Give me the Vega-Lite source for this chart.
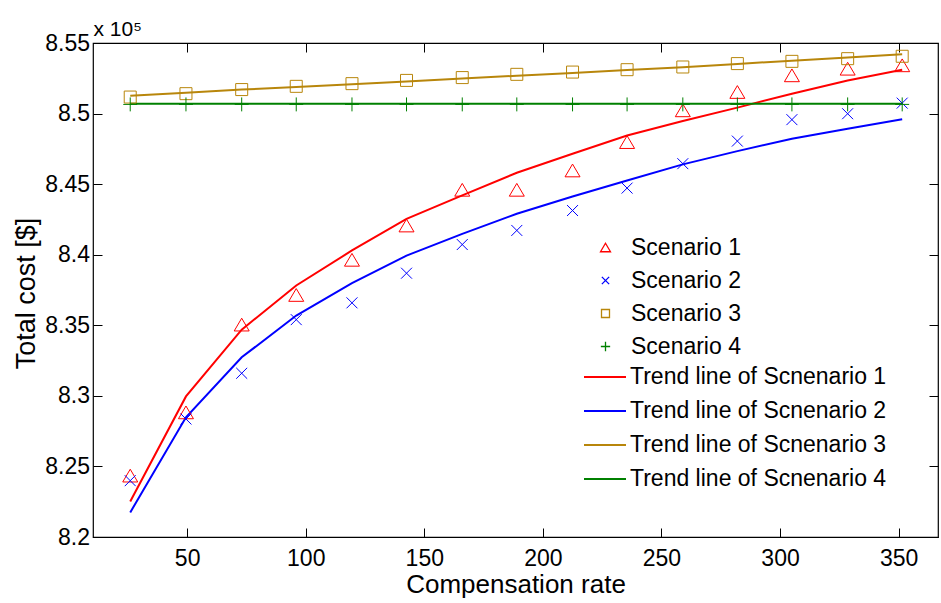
{
  "$schema": "https://vega.github.io/schema/vega-lite/v6.json",
  "width": 845,
  "height": 494,
  "autosize": {"type": "none"},
  "padding": {"left": 93, "top": 43, "right": 3, "bottom": 66},
  "background": "white",
  "datasets": {
    "pts": [
      {"x": 26, "y": 8.2435, "s": "Scenario 1"}, {"x": 49.5, "y": 8.2883, "s": "Scenario 1"}, {"x": 73, "y": 8.3505, "s": "Scenario 1"}, {"x": 96, "y": 8.3715, "s": "Scenario 1"}, {"x": 119.5, "y": 8.3964, "s": "Scenario 1"}, {"x": 142.5, "y": 8.4207, "s": "Scenario 1"}, {"x": 166, "y": 8.446, "s": "Scenario 1"}, {"x": 189, "y": 8.446, "s": "Scenario 1"}, {"x": 212.5, "y": 8.4597, "s": "Scenario 1"}, {"x": 235.5, "y": 8.4798, "s": "Scenario 1"}, {"x": 259, "y": 8.5023, "s": "Scenario 1"}, {"x": 282, "y": 8.5153, "s": "Scenario 1"}, {"x": 305, "y": 8.5271, "s": "Scenario 1"}, {"x": 328.5, "y": 8.5318, "s": "Scenario 1"}, {"x": 351.5, "y": 8.5342, "s": "Scenario 1"},
      {"x": 26, "y": 8.2399, "s": "Scenario 2"}, {"x": 49.5, "y": 8.2836, "s": "Scenario 2"}, {"x": 73, "y": 8.316, "s": "Scenario 2"}, {"x": 96, "y": 8.354, "s": "Scenario 2"}, {"x": 119.5, "y": 8.3659, "s": "Scenario 2"}, {"x": 142.5, "y": 8.3869, "s": "Scenario 2"}, {"x": 166, "y": 8.4072, "s": "Scenario 2"}, {"x": 189, "y": 8.4172, "s": "Scenario 2"}, {"x": 212.5, "y": 8.4313, "s": "Scenario 2"}, {"x": 235.5, "y": 8.4472, "s": "Scenario 2"}, {"x": 259, "y": 8.4645, "s": "Scenario 2"}, {"x": 282, "y": 8.4805, "s": "Scenario 2"}, {"x": 305, "y": 8.4957, "s": "Scenario 2"}, {"x": 328.5, "y": 8.4999, "s": "Scenario 2"}, {"x": 351.5, "y": 8.5074, "s": "Scenario 2"},
      {"x": 26, "y": 8.5117, "s": "Scenario 3"}, {"x": 49.5, "y": 8.5141, "s": "Scenario 3"}, {"x": 73, "y": 8.517, "s": "Scenario 3"}, {"x": 96, "y": 8.5193, "s": "Scenario 3"}, {"x": 119.5, "y": 8.5212, "s": "Scenario 3"}, {"x": 142.5, "y": 8.5235, "s": "Scenario 3"}, {"x": 166, "y": 8.5255, "s": "Scenario 3"}, {"x": 189, "y": 8.5278, "s": "Scenario 3"}, {"x": 212.5, "y": 8.5294, "s": "Scenario 3"}, {"x": 235.5, "y": 8.5311, "s": "Scenario 3"}, {"x": 259, "y": 8.533, "s": "Scenario 3"}, {"x": 282, "y": 8.5354, "s": "Scenario 3"}, {"x": 305, "y": 8.537, "s": "Scenario 3"}, {"x": 328.5, "y": 8.5389, "s": "Scenario 3"}, {"x": 351.5, "y": 8.5406, "s": "Scenario 3"},
      {"x": 26, "y": 8.5065, "s": "Scenario 4"}, {"x": 49.5, "y": 8.5065, "s": "Scenario 4"}, {"x": 73, "y": 8.5065, "s": "Scenario 4"}, {"x": 96, "y": 8.5065, "s": "Scenario 4"}, {"x": 119.5, "y": 8.5065, "s": "Scenario 4"}, {"x": 142.5, "y": 8.5065, "s": "Scenario 4"}, {"x": 166, "y": 8.5065, "s": "Scenario 4"}, {"x": 189, "y": 8.5065, "s": "Scenario 4"}, {"x": 212.5, "y": 8.5065, "s": "Scenario 4"}, {"x": 235.5, "y": 8.5065, "s": "Scenario 4"}, {"x": 259, "y": 8.5065, "s": "Scenario 4"}, {"x": 282, "y": 8.5065, "s": "Scenario 4"}, {"x": 305, "y": 8.5065, "s": "Scenario 4"}, {"x": 328.5, "y": 8.5065, "s": "Scenario 4"}, {"x": 351.5, "y": 8.5065, "s": "Scenario 4"}
    ],
    "lns": [
      {"x": 26, "y": 8.2252, "s": "Trend line of Scnenario 1"}, {"x": 49.5, "y": 8.2996, "s": "Trend line of Scnenario 1"}, {"x": 73, "y": 8.3469, "s": "Trend line of Scnenario 1"}, {"x": 96, "y": 8.3782, "s": "Trend line of Scnenario 1"}, {"x": 119.5, "y": 8.403, "s": "Trend line of Scnenario 1"}, {"x": 142.5, "y": 8.4254, "s": "Trend line of Scnenario 1"}, {"x": 166, "y": 8.442, "s": "Trend line of Scnenario 1"}, {"x": 189, "y": 8.4581, "s": "Trend line of Scnenario 1"}, {"x": 212.5, "y": 8.4715, "s": "Trend line of Scnenario 1"}, {"x": 235.5, "y": 8.4845, "s": "Trend line of Scnenario 1"}, {"x": 259, "y": 8.4947, "s": "Trend line of Scnenario 1"}, {"x": 282, "y": 8.5042, "s": "Trend line of Scnenario 1"}, {"x": 305, "y": 8.5141, "s": "Trend line of Scnenario 1"}, {"x": 328.5, "y": 8.5235, "s": "Trend line of Scnenario 1"}, {"x": 351.5, "y": 8.5311, "s": "Trend line of Scnenario 1"},
      {"x": 26, "y": 8.2174, "s": "Trend line of Scnenario 2"}, {"x": 49.5, "y": 8.2848, "s": "Trend line of Scnenario 2"}, {"x": 73, "y": 8.3273, "s": "Trend line of Scnenario 2"}, {"x": 96, "y": 8.3569, "s": "Trend line of Scnenario 2"}, {"x": 119.5, "y": 8.3798, "s": "Trend line of Scnenario 2"}, {"x": 142.5, "y": 8.3994, "s": "Trend line of Scnenario 2"}, {"x": 166, "y": 8.4148, "s": "Trend line of Scnenario 2"}, {"x": 189, "y": 8.429, "s": "Trend line of Scnenario 2"}, {"x": 212.5, "y": 8.4413, "s": "Trend line of Scnenario 2"}, {"x": 235.5, "y": 8.4526, "s": "Trend line of Scnenario 2"}, {"x": 259, "y": 8.464, "s": "Trend line of Scnenario 2"}, {"x": 282, "y": 8.4734, "s": "Trend line of Scnenario 2"}, {"x": 305, "y": 8.4822, "s": "Trend line of Scnenario 2"}, {"x": 328.5, "y": 8.4893, "s": "Trend line of Scnenario 2"}, {"x": 351.5, "y": 8.4959, "s": "Trend line of Scnenario 2"},
      {"x": 26, "y": 8.5127, "s": "Trend line of Scnenario 3"}, {"x": 49.5, "y": 8.5148, "s": "Trend line of Scnenario 3"}, {"x": 73, "y": 8.517, "s": "Trend line of Scnenario 3"}, {"x": 96, "y": 8.5188, "s": "Trend line of Scnenario 3"}, {"x": 119.5, "y": 8.5208, "s": "Trend line of Scnenario 3"}, {"x": 142.5, "y": 8.5228, "s": "Trend line of Scnenario 3"}, {"x": 166, "y": 8.5248, "s": "Trend line of Scnenario 3"}, {"x": 189, "y": 8.5268, "s": "Trend line of Scnenario 3"}, {"x": 212.5, "y": 8.5288, "s": "Trend line of Scnenario 3"}, {"x": 235.5, "y": 8.5308, "s": "Trend line of Scnenario 3"}, {"x": 259, "y": 8.5329, "s": "Trend line of Scnenario 3"}, {"x": 282, "y": 8.5352, "s": "Trend line of Scnenario 3"}, {"x": 305, "y": 8.5375, "s": "Trend line of Scnenario 3"}, {"x": 328.5, "y": 8.5398, "s": "Trend line of Scnenario 3"}, {"x": 351.5, "y": 8.542, "s": "Trend line of Scnenario 3"},
      {"x": 26, "y": 8.507, "s": "Trend line of Scnenario 4"}, {"x": 49.5, "y": 8.507, "s": "Trend line of Scnenario 4"}, {"x": 73, "y": 8.507, "s": "Trend line of Scnenario 4"}, {"x": 96, "y": 8.507, "s": "Trend line of Scnenario 4"}, {"x": 119.5, "y": 8.507, "s": "Trend line of Scnenario 4"}, {"x": 142.5, "y": 8.507, "s": "Trend line of Scnenario 4"}, {"x": 166, "y": 8.507, "s": "Trend line of Scnenario 4"}, {"x": 189, "y": 8.507, "s": "Trend line of Scnenario 4"}, {"x": 212.5, "y": 8.507, "s": "Trend line of Scnenario 4"}, {"x": 235.5, "y": 8.507, "s": "Trend line of Scnenario 4"}, {"x": 259, "y": 8.507, "s": "Trend line of Scnenario 4"}, {"x": 282, "y": 8.507, "s": "Trend line of Scnenario 4"}, {"x": 305, "y": 8.507, "s": "Trend line of Scnenario 4"}, {"x": 328.5, "y": 8.507, "s": "Trend line of Scnenario 4"}, {"x": 351.5, "y": 8.507, "s": "Trend line of Scnenario 4"}
    ]
  },
  "layer": [
    {
      "data": {"name": "lns"},
      "mark": {"type": "line", "strokeWidth": 2},
      "encoding": {
        "x": {"field": "x", "type": "quantitative", "scale": {"domain": [10.3, 366.6], "nice": false, "zero": false},
              "axis": {"orient": "bottom", "values": [50, 100, 150, 200, 250, 300, 350], "tickSize": -9, "labelPadding": 19, "title": "Compensation rate", "titleFontSize": 26, "titleBaseline": "alphabetic", "titleY": 55}},
        "y": {"field": "y", "type": "quantitative", "scale": {"domain": [8.2, 8.55], "nice": false, "zero": false},
              "axis": {"orient": "left", "values": [8.2, 8.25, 8.3, 8.35, 8.4, 8.45, 8.5, 8.55], "format": ".2~f", "tickSize": -9, "labelPadding": 12.5, "title": "Total cost [$]", "titleFontSize": 27, "titleX": -53, "titleY": 250}},
        "color": {"field": "s", "type": "nominal",
                  "scale": {"domain": ["Trend line of Scnenario 1", "Trend line of Scnenario 2", "Trend line of Scnenario 3", "Trend line of Scnenario 4"], "range": ["#FF0000", "#0000FF", "#B8860B", "#008000"]},
                  "legend": {"orient": "none", "legendX": 490, "legendY": 312, "title": null, "symbolType": "stroke", "symbolSize": 1764, "symbolStrokeWidth": 2, "labelOffset": 3, "rowPadding": 0, "padding": 0}}
      }
    },
    {
      "data": {"name": "pts"},
      "mark": {"type": "point", "filled": false, "strokeWidth": 1, "opacity": 1, "size": 225},
      "encoding": {
        "x": {"field": "x", "type": "quantitative", "axis": {"orient": "top", "values": [50, 100, 150, 200, 250, 300, 350], "tickSize": -9, "labels": false, "title": "x 10⁵", "titleFontSize": 21, "titleAnchor": "start", "titleAlign": "left", "titleBaseline": "alphabetic", "titleX": 0, "titleY": -8, "titleAngle": 0}},
        "y": {"field": "y", "type": "quantitative", "axis": {"orient": "right", "values": [8.2, 8.25, 8.3, 8.35, 8.4, 8.45, 8.5, 8.55], "tickSize": -9, "labels": false, "title": null}},
        "color": {"field": "s", "type": "nominal",
                  "scale": {"domain": ["Scenario 1", "Scenario 2", "Scenario 3", "Scenario 4"], "range": ["#FF0000", "#0000FF", "#B8860B", "#008000"]},
                  "legend": {"orient": "none", "legendX": 501, "legendY": 193, "title": null, "symbolSize": 100, "symbolStrokeWidth": 1.3, "labelOffset": 14, "rowPadding": 9, "padding": 0}},
        "shape": {"field": "s", "type": "nominal",
                  "scale": {"domain": ["Scenario 1", "Scenario 2", "Scenario 3", "Scenario 4"], "range": ["M0,-0.85L1,0.85L-1,0.85Z", "M-0.73,-0.73L0.73,0.73M-0.73,0.73L0.73,-0.73", "M-0.8,-0.8L0.8,-0.8L0.8,0.8L-0.8,0.8Z", "M-0.93,0L0.93,0M0,-0.93L0,0.93"]}}
      }
    }
  ],
  "resolve": {"scale": {"color": "independent", "shape": "independent"}, "axis": {"x": "independent", "y": "independent"}},
  "config": {
    "font": "Liberation Sans",
    "view": {"stroke": "black", "strokeWidth": 1.2},
    "axis": {"domain": false, "grid": false, "tickColor": "black", "tickWidth": 1, "labelColor": "black", "labelFontSize": 23, "labelFont": "Liberation Sans", "titleColor": "black", "titleFont": "Liberation Sans", "titleFontWeight": "normal", "labelFlush": false, "labelOverlap": false},
    "legend": {"labelFontSize": 23, "labelFont": "Liberation Sans", "labelColor": "black", "labelLimit": 400}
  }
}
